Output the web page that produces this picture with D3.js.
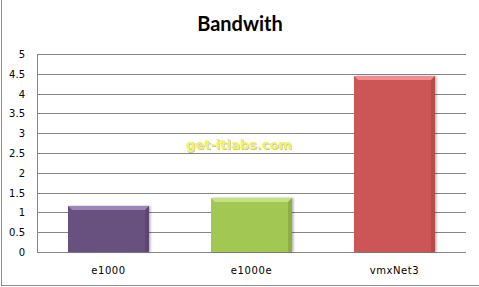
<!DOCTYPE html>
<html>
  <head>
    <meta charset="utf-8">
    <style>
      body { margin: 0; background: #fff; }
      svg { display: block; }
      .grid line { stroke: #868686; stroke-width: 1px; }
      .tick-label { font: 10px "DejaVu Sans", sans-serif; fill: #000; }
      .cat-label { font: 10px "DejaVu Sans", sans-serif; fill: #000; letter-spacing: 0.6px; }
      .title { font: bold 20px Lato, sans-serif; fill: #000; }
      .mark { font: bold 13px "DejaVu Sans", sans-serif; }
    </style>
  </head>
  <body>
    <svg></svg>
    <script src="https://cdnjs.cloudflare.com/ajax/libs/d3/7.8.5/d3.min.js"></script>
    <script>
      var categories = ["e1000", "e1000e", "vmxNet3"];
      var values = [1.15, 1.36, 4.44];
      var yTicks = [0, 0.5, 1, 1.5, 2, 2.5, 3, 3.5, 4, 4.5, 5];
      var yTickLabels = ["0", "0.5", "1", "1.5", "2", "2.5", "3", "3.5", "4", "4.5", "5"];
      var barColors = [
        { main: "#69517f", light: "#9d85b9", dark: "#4c3a60" },
        { main: "#a2c752", light: "#c4e27f", dark: "#6e8d30" },
        { main: "#cb5654", light: "#ee8f8d", dark: "#963c3a" }
      ];

      var width = 479, height = 287,
          plotLeft = 37, plotRight = 466, plotTop = 54, plotBottom = 252;

      var svg = d3.select("svg").attr("width", width).attr("height", height);

      // outer chart border (only left and bottom edges visible)
      svg.append("line").attr("x1", 1.5).attr("x2", 1.5).attr("y1", 0).attr("y2", 286)
         .style("stroke", "#8c8c8c");
      svg.append("line").attr("x1", 1).attr("x2", width).attr("y1", 285.5).attr("y2", 285.5)
         .style("stroke", "#8c8c8c");

      var x = d3.scaleBand().domain(categories).range([plotLeft, plotRight]).paddingInner(0.43).paddingOuter(0.215);
      var y = d3.scaleLinear().domain([0, 5]).range([plotBottom, plotTop]);

      var grid = svg.append("g").attr("class", "grid");
      grid.selectAll("line").data(yTicks).enter().append("line")
          .attr("x1", plotLeft).attr("x2", plotRight)
          .attr("y1", function(d){ return Math.round(y(d)) + 0.5; })
          .attr("y2", function(d){ return Math.round(y(d)) + 0.5; });
      grid.append("line").attr("x1", plotLeft + 0.5).attr("x2", plotLeft + 0.5)
          .attr("y1", Math.round(y(5)) + 0.5).attr("y2", Math.round(y(0)) + 0.5);

      svg.selectAll(".tick-label").data(yTicks).enter().append("text")
         .attr("class", "tick-label")
         .attr("x", 25)
         .attr("y", function(d){ return Math.round(y(d)) + 4; })
         .attr("text-anchor", "end")
         .text(function(d, i){ return yTickLabels[i]; });

      var defs = svg.append("defs");
      var shadow = defs.append("filter").attr("id", "shadow")
          .attr("x", "-10%").attr("y", "-10%").attr("width", "130%").attr("height", "130%");
      shadow.append("feDropShadow").attr("dx", 1.5).attr("dy", 0).attr("stdDeviation", 1)
            .attr("flood-color", "#000").attr("flood-opacity", 0.3);

      var bw = 4;
      var bars = svg.selectAll(".bar").data(values).enter().append("g").attr("class", "bar");
      bars.each(function(d, i){
        var g = d3.select(this),
            x0 = Math.round(x(categories[i])),
            x1 = Math.round(x(categories[i]) + x.bandwidth()),
            y0 = Math.round(y(d)),
            y1 = Math.round(y(0)),
            c = barColors[i];
        g.append("rect").attr("x", x0).attr("y", y0).attr("width", x1 - x0).attr("height", y1 - y0)
         .style("fill", c.main).attr("filter", "url(#shadow)");
        // top bevel
        g.append("polygon")
         .attr("points", [[x0, y0], [x1, y0], [x1 - bw, y0 + bw], [x0 + bw, y0 + bw]].join(" "))
         .style("fill", c.light);
        // left bevel
        g.append("polygon")
         .attr("points", [[x0, y0], [x0 + bw, y0 + bw], [x0 + bw, y1], [x0, y1]].join(" "))
         .style("fill", c.main).style("opacity", 0.6);
        // right bevel
        g.append("polygon")
         .attr("points", [[x1, y0], [x1 - bw, y0 + bw], [x1 - bw, y1], [x1, y1]].join(" "))
         .style("fill", c.dark).style("opacity", 0.4);
      });

      svg.selectAll(".cat-label").data(categories).enter().append("text")
         .attr("class", "cat-label")
         .attr("x", function(d){ return x(d) + x.bandwidth() / 2; })
         .attr("y", 274)
         .attr("text-anchor", "middle")
         .text(function(d){ return d; });

      svg.append("text").attr("class", "title")
         .attr("x", 240).attr("y", 31).attr("text-anchor", "middle")
         .text("Bandwith");

      // watermark
      svg.append("text").attr("class", "mark")
         .attr("x", 240).attr("y", 150).attr("text-anchor", "middle")
         .style("fill", "#999").style("opacity", 0.6)
         .text("get-itlabs.com");
      svg.append("text").attr("class", "mark")
         .attr("x", 239).attr("y", 149).attr("text-anchor", "middle")
         .style("fill", "#f2f25e")
         .text("get-itlabs.com");
    </script>
  </body>
</html>
